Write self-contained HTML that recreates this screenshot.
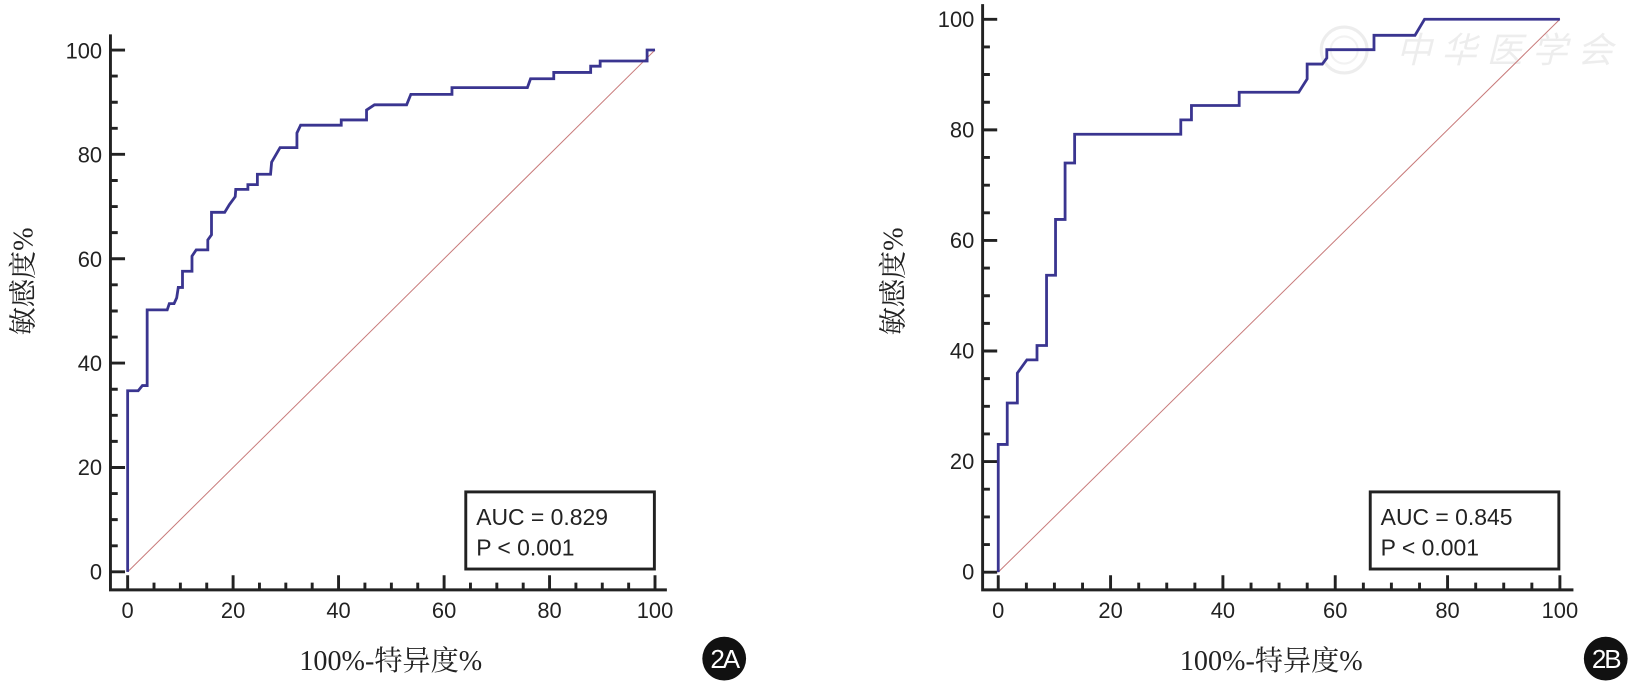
<!DOCTYPE html>
<html><head><meta charset="utf-8"><style>
html,body{margin:0;padding:0;background:#fff;}
svg{display:block;}
text{font-family:"Liberation Sans","Noto Sans CJK SC",sans-serif;fill:#222;}
.t{font-size:21px;}
.s{font-family:"Liberation Serif","Noto Serif CJK SC",serif;font-size:27px;fill:#222;}
</style></head><body>
<svg width="1637" height="692" viewBox="0 0 1571 664" preserveAspectRatio="none" xmlns="http://www.w3.org/2000/svg">
<rect width="1571" height="664" fill="#fff"/>
<!-- watermark -->
<g opacity="0.25">
<circle cx="1290" cy="48" r="22" fill="none" stroke="#bbb" stroke-width="3"/>
<circle cx="1290" cy="48" r="13" fill="none" stroke="#ccc" stroke-width="2"/>
<text x="1340" y="60" font-size="34" style="fill:#bbb;font-style:italic" font-family="Noto Serif CJK SC, serif">中 华 医 学 会</text>
</g>

<!-- ===== Chart A ===== -->
<g stroke="#222" stroke-width="2.8" fill="none">
<path d="M106,33 V566 H640"/>
<path d="M106,548.7H120M106,448.6H120M106,348.4H120M106,248.3H120M106,148.1H120M106,48H120"/>
<path d="M106,523.7H113M106,498.6H113M106,473.6H113M106,423.5H113M106,398.5H113M106,373.5H113M106,323.4H113M106,298.4H113M106,273.3H113M106,223.2H113M106,198.2H113M106,173.2H113M106,123.1H113M106,98.1H113M106,73H113"/>
<path d="M122.5,566V552M223.7,566V552M324.9,566V552M426.2,566V552M527.4,566V552M628.6,566V552"/>
<path d="M147.8,566V559M173.1,566V559M198.4,566V559M249,566V559M274.3,566V559M299.6,566V559M350.2,566V559M375.6,566V559M400.9,566V559M451.5,566V559M476.8,566V559M502.1,566V559M552.7,566V559M578,566V559M603.3,566V559"/>
</g>
<g text-anchor="end">
<text x="98" y="556" class="t">0</text><text x="98" y="456" class="t">20</text><text x="98" y="356" class="t">40</text>
<text x="98" y="256" class="t">60</text><text x="98" y="156" class="t">80</text><text x="98" y="56" class="t">100</text>
</g>
<g text-anchor="middle">
<text x="122.5" y="593" class="t">0</text><text x="223.7" y="593" class="t">20</text><text x="324.9" y="593" class="t">40</text>
<text x="426.2" y="593" class="t">60</text><text x="527.4" y="593" class="t">80</text><text x="628.6" y="593" class="t">100</text>
</g>
<g transform="translate(122.5,548.7) scale(5.061,-5.007)" fill="none">
<path d="M0,0 L100,100" stroke="#c87a7a" stroke-width="1" vector-effect="non-scaling-stroke"/>
<path d="M0,0 V34.7 H2 L2.8,35.7 H3.7 V50.2 H7.5 L7.9,51.4 H8.8 L9.3,52.5 L9.6,54.5 H10.4 V57.6 H12.2 V60.5 L13,61.7 H15.2 V63.6 L15.9,64.6 V68.9 H18.4 L19.3,70.4 L20.4,71.9 L20.5,73.3 H22.8 V74.2 H24.6 V76.2 H27.1 L27.3,78.5 L28.9,81.3 H32.1 V84.1 L32.8,85.6 H40.5 V86.6 H45.3 V88.5 L46.8,89.5 H52.9 L53.7,91.5 H61.5 V92.8 H75.8 L76.4,94.5 H80.8 V95.7 H87.8 V96.9 H89.6 V97.9 H98.5 V100 H100" stroke="#3a3590" stroke-width="2.8" vector-effect="non-scaling-stroke"/>
</g>
<rect x="447" y="472" width="181" height="74" fill="#fff" stroke="#222" stroke-width="2.8"/>
<text x="457" y="504" font-size="22">AUC = 0.829</text>
<text x="457" y="533" font-size="22">P &lt; 0.001</text>
<text class="s" transform="translate(31,270) rotate(-90)" text-anchor="middle" font-family="Liberation Sans, Noto Sans CJK SC, sans-serif">敏感度%</text>
<text class="s" x="375" y="643" text-anchor="middle">100%-特异度%</text>
<circle cx="695" cy="632" r="21" fill="#111"/>
<text x="695" y="641" text-anchor="middle" font-size="25" style="fill:#fff;letter-spacing:-2px">2A</text>

<!-- ===== Chart B ===== -->
<g stroke="#222" stroke-width="2.8" fill="none">
<path d="M943,4 V566 H1510"/>
<path d="M943,549H957M943,442.9H957M943,336.8H957M943,230.7H957M943,124.6H957M943,18.5H957"/>
<path d="M943,522.5H950M943,496H950M943,469.4H950M943,416.4H950M943,389.9H950M943,363.3H950M943,310.3H950M943,283.8H950M943,257.2H950M943,204.2H950M943,177.7H950M943,151.1H950M943,98.1H950M943,71.5H950M943,45H950"/>
<path d="M958,566V552M1065.8,566V552M1173.6,566V552M1281.4,566V552M1389.2,566V552M1497,566V552"/>
<path d="M985,566V559M1011.9,566V559M1038.9,566V559M1092.8,566V559M1119.7,566V559M1146.7,566V559M1200.6,566V559M1227.5,566V559M1254.5,566V559M1308.4,566V559M1335.3,566V559M1362.3,566V559M1416.2,566V559M1443.1,566V559M1470.1,566V559"/>
</g>
<g text-anchor="end">
<text x="935" y="556" class="t">0</text><text x="935" y="450" class="t">20</text><text x="935" y="344" class="t">40</text>
<text x="935" y="238" class="t">60</text><text x="935" y="132" class="t">80</text><text x="935" y="26" class="t">100</text>
</g>
<g text-anchor="middle">
<text x="958" y="593" class="t">0</text><text x="1065.8" y="593" class="t">20</text><text x="1173.6" y="593" class="t">40</text>
<text x="1281.4" y="593" class="t">60</text><text x="1389.2" y="593" class="t">80</text><text x="1497" y="593" class="t">100</text>
</g>
<g transform="translate(958,549) scale(5.39,-5.305)" fill="none">
<path d="M0,0 L100,100" stroke="#c87a7a" stroke-width="1" vector-effect="non-scaling-stroke"/>
<path d="M0,0 V23.1 H1.6 V30.6 H3.4 V36 L5.1,38.4 H6.9 V41 H8.6 V53.7 H10.2 V63.8 H11.9 V74 H13.6 V79.2 H32.5 V81.8 H34.4 V84.4 H42.9 V86.8 H53.5 L55,89.2 V91.9 H57.7 L58.5,93 V94.5 H66.9 V97.1 H74.2 L75.9,100 H100" stroke="#3a3590" stroke-width="2.8" vector-effect="non-scaling-stroke"/>
</g>
<rect x="1315" y="472" width="181" height="74" fill="#fff" stroke="#222" stroke-width="2.8"/>
<text x="1325" y="504" font-size="22">AUC = 0.845</text>
<text x="1325" y="533" font-size="22">P &lt; 0.001</text>
<text class="s" transform="translate(866,270) rotate(-90)" text-anchor="middle" font-family="Liberation Sans, Noto Sans CJK SC, sans-serif">敏感度%</text>
<text class="s" x="1220" y="643" text-anchor="middle">100%-特异度%</text>
<circle cx="1541" cy="632" r="21" fill="#111"/>
<text x="1541" y="641" text-anchor="middle" font-size="25" style="fill:#fff;letter-spacing:-2px">2B</text>
</svg>
</body></html>
